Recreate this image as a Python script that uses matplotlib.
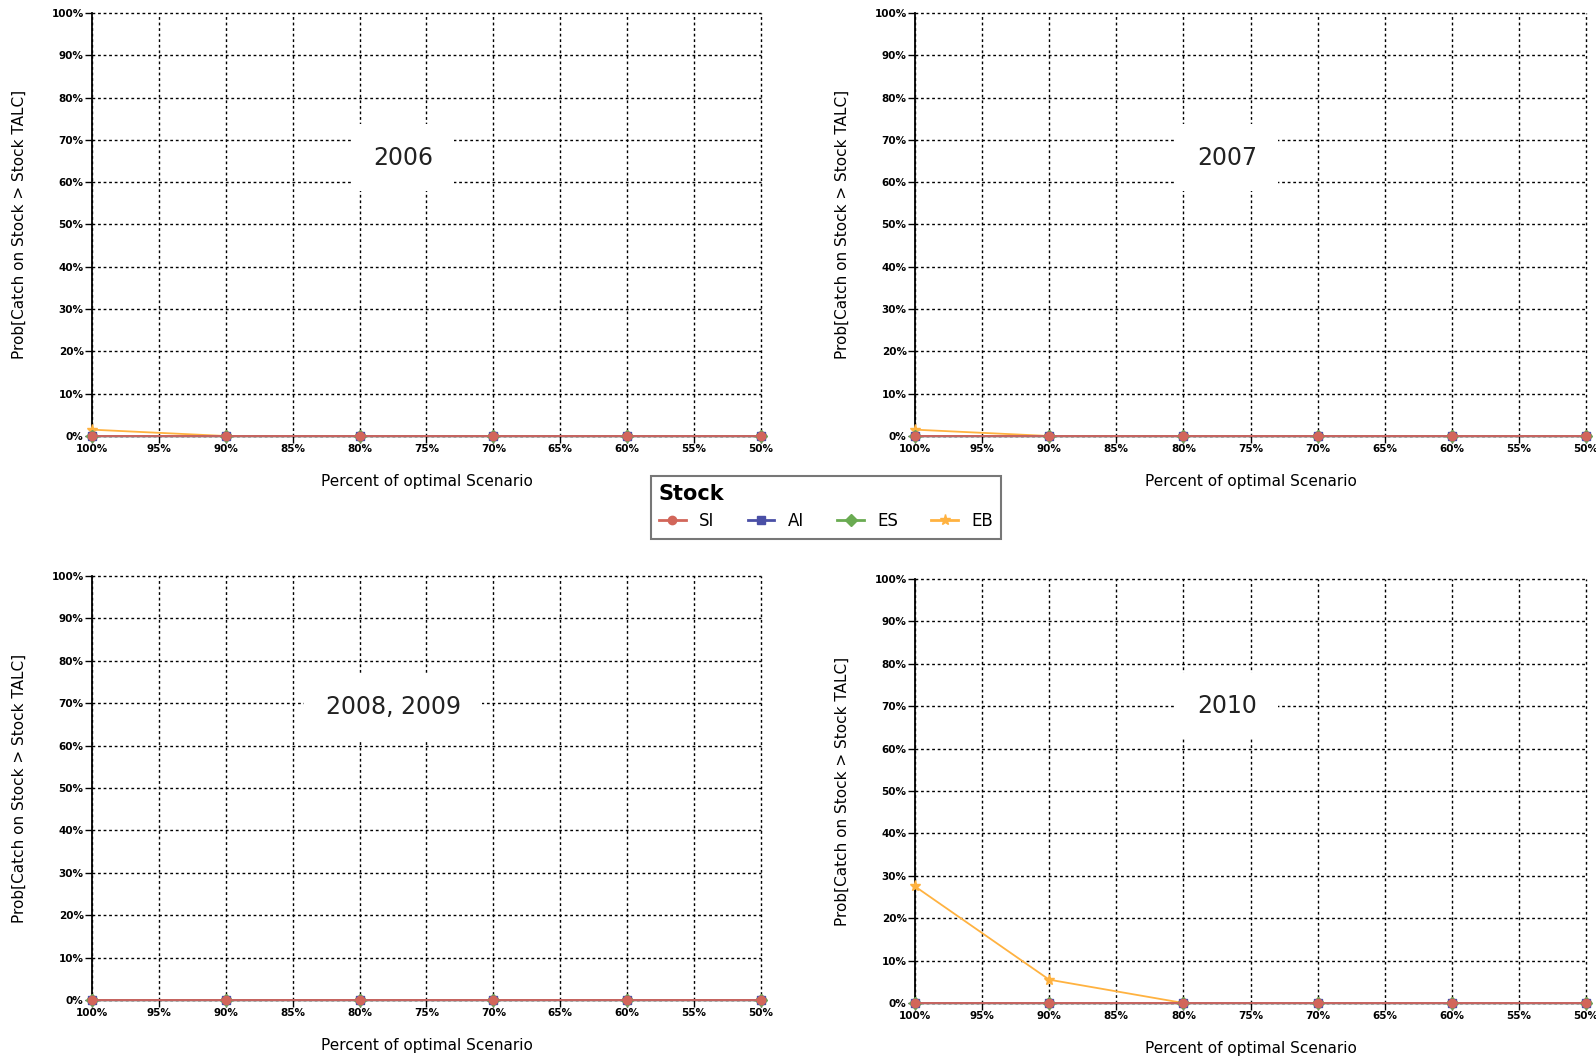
import matplotlib.pyplot as plt
import numpy as np

# scenario levels (percent of optimal), plotted from 100% down to 50%
scenarios = [100, 90, 80, 70, 60, 50]
panel_titles = ["2006", "2007", "2008, 2009", "2010"]

si = {t: [0, 0, 0, 0, 0, 0] for t in panel_titles}
ai = {t: [0, 0, 0, 0, 0, 0] for t in panel_titles}
es = {t: [0, 0, 0, 0, 0, 0] for t in panel_titles}
eb = {
    "2006": [1.5, 0, 0, 0, 0, 0],
    "2007": [1.5, 0, 0, 0, 0, 0],
    "2008, 2009": [0, 0, 0, 0, 0, 0],
    "2010": [27.5, 5.5, 0, 0, 0, 0],
}

stocks = ["SI", "AI", "ES", "EB"]
colors = {"SI": "#d2665a", "AI": "#4a4fa6", "ES": "#6aab52", "EB": "#ffb240"}
markers = {"SI": "o", "AI": "s", "ES": "D", "EB": "*"}
series = {"SI": si, "AI": ai, "ES": es, "EB": eb}

W, H = 1596, 1059
fig = plt.figure(figsize=(W / 100, H / 100), dpi=100)

# axes boxes in pixels: left, top, right, bottom
boxes = {
    "2006": (92, 13, 761, 436),
    "2007": (915, 13, 1586, 436),
    "2008, 2009": (92, 576, 761, 1000),
    "2010": (915, 579, 1586, 1003),
}
label_pos = {"2006": (0.465, 0.658), "2007": (0.465, 0.658),
             "2008, 2009": (0.45, 0.69), "2010": (0.465, 0.70)}

for title in panel_titles:
    l, t, r, b = boxes[title]
    ax = fig.add_axes([l / W, 1 - b / H, (r - l) / W, (b - t) / H])
    for s in ["EB", "ES", "AI", "SI"]:
        ax.plot(scenarios, series[s][title], color=colors[s], marker=markers[s],
                markersize=6 if s != "EB" else 8, linewidth=1.3, clip_on=False,
                zorder=3)
    ax.set_xlim(100, 50)
    ax.set_ylim(0, 100)
    xt = np.arange(100, 49, -5)
    ax.set_xticks(xt)
    ax.set_xticklabels([f"{v}%" for v in xt], fontsize=7.5, fontweight="bold")
    yt = np.arange(0, 101, 10)
    ax.set_yticks(yt)
    ax.set_yticklabels([f"{v}%" for v in yt], fontsize=7.5, fontweight="bold")
    ax.grid(True, color="black", linestyle=(0, (2, 2)), linewidth=1.0)
    for gl in ax.get_xgridlines() + ax.get_ygridlines():
        gl.set_clip_on(False)
    for side in ["top", "right"]:
        ax.spines[side].set_visible(False)
    ax.spines["left"].set_linewidth(1.3)
    ax.spines["bottom"].set_linewidth(1.0)
    ax.tick_params(length=5, width=1, pad=1)
    ax.set_xlabel("Percent of optimal Scenario", fontsize=11, labelpad=14)
    ax.set_ylabel("Prob[Catch on Stock > Stock TALC]", fontsize=11, labelpad=18)
    lx, ly = label_pos[title]
    ax.text(lx, ly, title, transform=ax.transAxes, ha="center", va="center",
            fontsize=17, color="#222222",
            bbox=dict(facecolor="white", edgecolor="none",
                      boxstyle="square,pad=0.9"), zorder=4)

# shared legend between the panels
handles = [plt.Line2D([], [], color=colors[s], marker=markers[s], linewidth=2,
                      markersize=6 if s != "EB" else 8) for s in stocks]
leg = fig.legend(handles, stocks, loc="center", bbox_to_anchor=(826 / W, 1 - 507 / H),
                 ncol=4, title="Stock", fontsize=12, frameon=True, fancybox=False,
                 edgecolor="#555555", handlelength=1.6, columnspacing=2.0,
                 borderpad=0.5)
leg.get_title().set_fontsize(15)
leg.get_title().set_fontweight("bold")
leg._legend_box.align = "left"
leg.get_frame().set_linewidth(1.5)

fig.savefig("out.png", dpi=100)
